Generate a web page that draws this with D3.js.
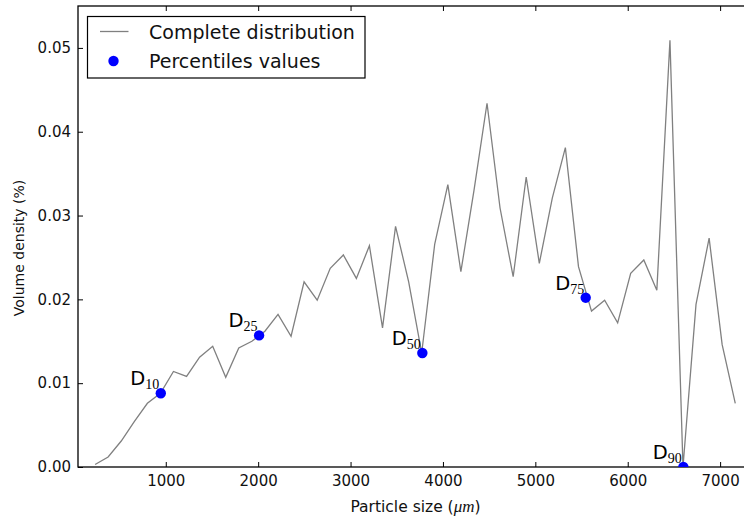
<!DOCTYPE html>
<html>
<head>
<meta charset="utf-8">
<script src="https://cdn.jsdelivr.net/npm/d3@7"></script>
<style>
  html, body { margin: 0; padding: 0; background: #fff; }
  svg { display: block; font-family: "DejaVu Sans", sans-serif; }
</style>
</head>
<body>
<svg id="chart" width="744" height="520"></svg>
<script>
// Particle size bin centres (µm)
const sizes = [235, 376, 518, 659, 801, 942, 1083, 1225, 1366, 1508,
               1649, 1790, 1932, 2073, 2215, 2356, 2497, 2639, 2780, 2922,
               3063, 3204, 3346, 3487, 3629, 3770, 3911, 4053, 4194, 4336,
               4477, 4618, 4760, 4901, 5043, 5184, 5325, 5467, 5608, 5750,
               5891, 6032, 6174, 6315, 6457, 6598, 6739, 6881, 7022, 7164];
// Volume density (%) per bin
const density = [0.0003, 0.0012, 0.0031, 0.0054, 0.0076, 0.0088, 0.0114, 0.0108, 0.0131, 0.0144,
                 0.0107, 0.0142, 0.0150, 0.0162, 0.0182, 0.0156, 0.0221, 0.0199, 0.0237, 0.0253,
                 0.0225, 0.0264, 0.0166, 0.0287, 0.0221, 0.0136, 0.0266, 0.0337, 0.0233, 0.0330,
                 0.0434, 0.0309, 0.0227, 0.0346, 0.0243, 0.0321, 0.0381, 0.0239, 0.0186, 0.0199,
                 0.0172, 0.0231, 0.0247, 0.0211, 0.0509, 0.0000, 0.0194, 0.0273, 0.0146, 0.0076];

// Percentiles D10..D90
const pctNames  = ["10", "25", "50", "75", "90"];
const pctSizes  = [946, 2010, 3777, 5545, 6602];
const pctValues = [0.0088, 0.0157, 0.0136, 0.0202, 0.0000];

const xTicks = [1000, 2000, 3000, 4000, 5000, 6000, 7000];
const yTicks = [0.00, 0.01, 0.02, 0.03, 0.04, 0.05];

const svg = d3.select("#chart");
// The right edge of the axes box lies just past the page edge
const plotL = 78, plotR = 752, plotT = 6, plotB = 467;

const x = d3.scaleLinear().domain([50, 7345]).range([plotL, plotR]);
const y = d3.scaleLinear().domain([0, 0.055]).range([plotB, plotT]);

svg.append("defs").append("clipPath").attr("id", "plotclip")
  .append("rect").attr("x", plotL).attr("y", plotT)
  .attr("width", plotR - plotL).attr("height", plotB - plotT);

// Axes with inward ticks
const tickFont = 15;
const gx = svg.append("g").attr("transform", `translate(0,${plotB})`)
  .call(d3.axisBottom(x).tickValues(xTicks).tickSize(-5).tickPadding(8).tickFormat(d3.format("d")));
const gxTop = svg.append("g").attr("transform", `translate(0,${plotT})`)
  .call(d3.axisTop(x).tickValues(xTicks).tickSize(-5).tickFormat(""));
const gy = svg.append("g").attr("transform", `translate(${plotL},0)`)
  .call(d3.axisLeft(y).tickValues(yTicks).tickSize(-5).tickPadding(7).tickFormat(d3.format(".2f")));
const gyRight = svg.append("g").attr("transform", `translate(${plotR},0)`)
  .call(d3.axisRight(y).tickValues(yTicks).tickSize(-5).tickFormat(""));

[gx, gxTop, gy, gyRight].forEach(g => {
  g.select(".domain").remove();
  g.selectAll(".tick line").attr("stroke", "#000").attr("stroke-width", 1);
  g.selectAll(".tick text").attr("font-size", tickFont).attr("fill", "#111")
    .attr("font-family", "DejaVu Sans, sans-serif");
});

// Frame
svg.append("rect").attr("x", plotL).attr("y", plotT)
  .attr("width", plotR - plotL).attr("height", plotB - plotT)
  .attr("fill", "none").attr("stroke", "#000").attr("stroke-width", 1.3);

const plot = svg.append("g").attr("clip-path", "url(#plotclip)");

// Complete distribution
const pts = sizes.map((s, i) => [s, density[i]]);
plot.append("path")
  .attr("d", d3.line().x(d => x(d[0])).y(d => y(d[1]))(pts))
  .attr("fill", "none").attr("stroke", "#808080").attr("stroke-width", 1.3)
  .attr("stroke-linejoin", "miter");

// Percentile markers
plot.selectAll("circle.pct").data(pctSizes).enter().append("circle")
  .attr("class", "pct")
  .attr("cx", (d) => x(d)).attr("cy", (d, i) => y(pctValues[i]))
  .attr("r", 5.2).attr("fill", "#0000ff");

// Percentile labels
pctSizes.forEach((s, i) => {
  const t = svg.append("text")
    .attr("x", x(s) - 1.5).attr("y", y(pctValues[i]) - 8)
    .attr("text-anchor", "end").attr("fill", "#000");
  t.append("tspan").attr("font-size", 19.5).attr("font-family", "DejaVu Sans, sans-serif").text("D");
  t.append("tspan").attr("font-size", 14).attr("dy", 4)
    .attr("font-family", "Liberation Serif, DejaVu Serif, serif").text(pctNames[i]);
});

// Axis titles
svg.append("text").attr("x", 415.5).attr("y", 512).attr("text-anchor", "middle")
  .attr("font-size", 15.5).attr("fill", "#111")
  .call(t => {
    t.append("tspan").text("Particle size (");
    t.append("tspan").attr("font-family", "Liberation Serif, DejaVu Serif, serif")
      .attr("font-style", "italic").attr("font-size", 17).text("μm");
    t.append("tspan").text(")");
  });

svg.append("text").attr("transform", "translate(24,248) rotate(-90)")
  .attr("text-anchor", "middle").attr("font-size", 14).attr("fill", "#111")
  .text("Volume density (%)");

// Legend
const lg = svg.append("g");
lg.append("rect").attr("x", 87.5).attr("y", 16.5).attr("width", 277.5).attr("height", 61.5)
  .attr("fill", "#fff").attr("stroke", "#000").attr("stroke-width", 1.2);
lg.append("line").attr("x1", 100).attr("x2", 128.5).attr("y1", 31.5).attr("y2", 31.5)
  .attr("stroke", "#808080").attr("stroke-width", 1.3);
lg.append("circle").attr("cx", 113.5).attr("cy", 61).attr("r", 5.2).attr("fill", "#0000ff");
lg.append("text").attr("x", 149).attr("y", 38.5).attr("font-size", 19).attr("fill", "#111")
  .text("Complete distribution");
lg.append("text").attr("x", 149).attr("y", 67.5).attr("font-size", 19).attr("fill", "#111")
  .text("Percentiles values");
</script>
</body>
</html>
